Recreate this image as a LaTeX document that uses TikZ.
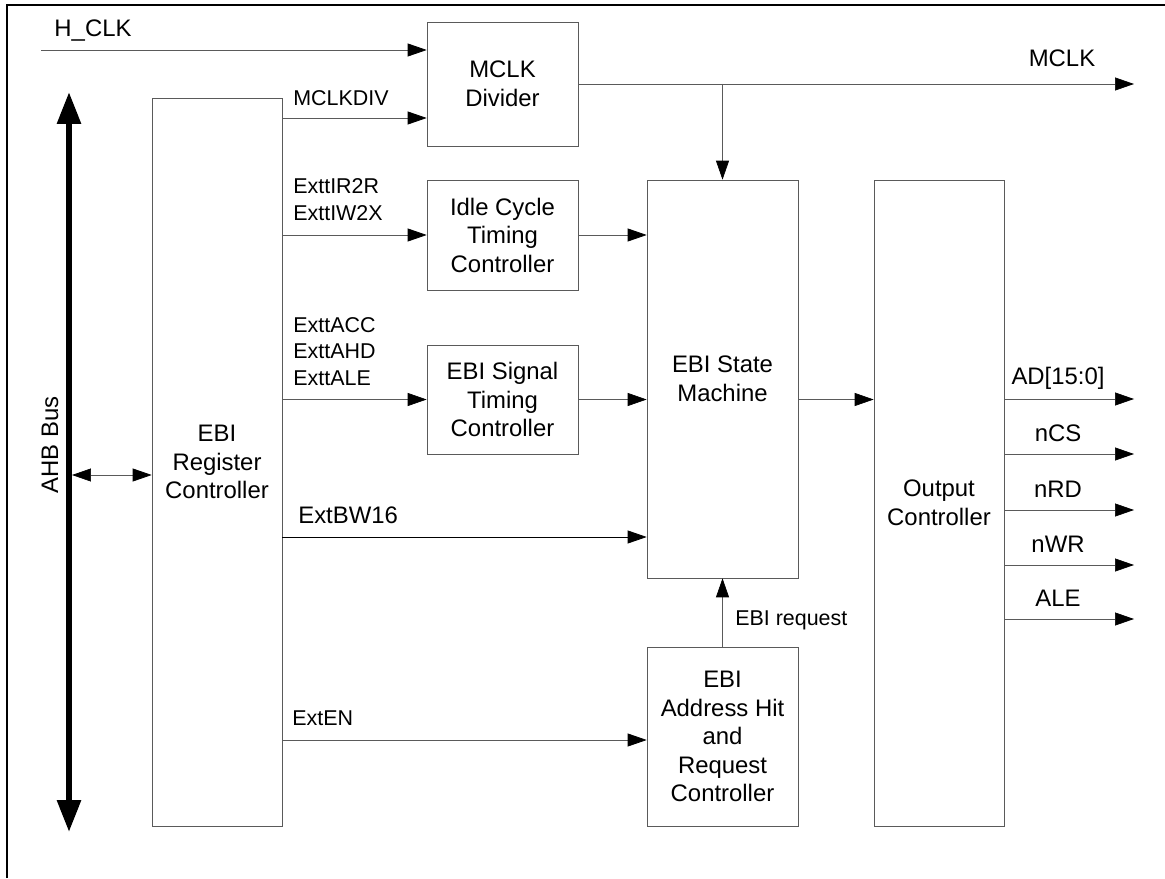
\documentclass[tikz,border=0pt]{standalone}
\usepackage{fontspec}
\setmainfont{Liberation Sans}
\usetikzlibrary{arrows.meta, positioning, calc}
\definecolor{ebline}{HTML}{5A5A5A}

\begin{document}
\begin{tikzpicture}[x=0.02cm, y=-0.02cm,
  every node/.style={font=\fontsize{13.6}{16.2}\selectfont},
  block/.style={rectangle, draw=ebline, minimum width=3.02cm, align=center, inner sep=0pt},
  tag/.style={font=\fontsize{12.2}{15.3}\selectfont, anchor=west, inner sep=0pt, align=left},
  wire/.style={draw=ebline, -{Triangle[length=0.38cm, width=0.26cm, color=black]}},
]
\useasboundingbox (0,0) rectangle (1165,878);

% Frame
\draw[line width=1.4pt] (7,878) -- (7,5) -- (1165,5);

% Blocks
\node[block, minimum height=2.48cm] (div) at (502.5,84) {MCLK\\Divider};
\node[block, minimum height=2.2cm] (idle) at (502.5,235) {Idle Cycle\\Timing\\Controller};
\node[block, minimum height=2.18cm] (sigt) at (502.5,399.5) {EBI Signal\\Timing\\Controller};
\node[block, minimum height=7.96cm] (sm) at (722.5,379) {EBI State\\Machine};
\node[block, minimum height=3.58cm] (ahit) at (722.5,736.5) {EBI\\Address Hit\\and\\Request\\Controller};
\node[block, minimum width=2.6cm, minimum height=14.56cm] (reg) at (217,462) {EBI\\Register\\Controller};
\node[block, minimum width=2.6cm, minimum height=12.92cm] (oc) at (939,503) {Output\\Controller};

% AHB bus
\coordinate (bustop) at (69,92);
\coordinate (busbot) at (69,832);
\coordinate (busport) at (72,475);
\draw[line width=0.12cm, {Triangle[length=0.64cm, width=0.46cm]}-{Triangle[length=0.64cm, width=0.46cm]}] (bustop) -- (busbot);
\node[rotate=90] (ahb) at (50,445) {AHB Bus};
\draw[wire, {Triangle[length=0.38cm, width=0.26cm, color=black]}-{Triangle[length=0.38cm, width=0.26cm, color=black]}] (busport) -- (reg.west |- busport);

% Clock
\coordinate (hclk) at (41,50);
\draw[wire] (hclk) -- (hclk -| div.west);
\node (hclklbl) at (93,31) {H\_CLK};
\coordinate (mclkout) at (1134,84);
\draw[wire] (div.east) -- (mclkout);
\node (mclklbl) at (1062,58) {MCLK};
\coordinate (mclktap) at (sm.north |- div.east);
\draw[wire] (mclktap) -- (sm.north);

% Register outputs
\coordinate (mdiv) at (282,118);
\draw[wire] (mdiv) -- (mdiv -| div.west);
\node[tag] (mdivlbl) at (293,98) {MCLKDIV};
\draw[wire] (reg.east |- idle.west) -- (idle.west);
\node[tag] (idlelbl) at (293,199.5) {ExttIR2R\\ExttIW2X};
\draw[wire] (reg.east |- sigt.west) -- (sigt.west);
\node[tag] (sigtlbl) at (293,351.5) {ExttACC\\ExttAHD\\ExttALE};
\coordinate (bw16) at (282,537);
\draw[wire, draw=black] (bw16) -- (bw16 -| sm.west);
\node[anchor=west, inner sep=0pt] (bw16lbl) at (298,515) {ExtBW16};
\coordinate (exten) at (282,740);
\draw[wire] (exten) -- (exten -| ahit.west);
\node[tag] (extenlbl) at (292,718) {ExtEN};

% State machine inputs and output
\draw[wire] (idle.east) -- (idle.east -| sm.west);
\draw[wire] (sigt.east) -- (sigt.east -| sm.west);
\draw[wire] (ahit.north) -- (sm.south);
\node[tag] (reqlbl) at (735,620) {EBI request};
\coordinate (smout) at (sm.east |- sigt.east);
\draw[wire] (smout) -- (smout -| oc.west);

% Memory interface
\foreach \yy/\txt/\nm in {399/{AD[15:0]}/ad, 454/nCS/ncs, 510/nRD/nrd, 565/nWR/nwr, 619/ALE/ale} {
  \coordinate (o\nm) at (1134,\yy);
  \draw[wire] (oc.east |- o\nm) -- (o\nm);
  \node (l\nm) at (1058,\yy-21) {\txt};
}

\end{tikzpicture}
\end{document}
